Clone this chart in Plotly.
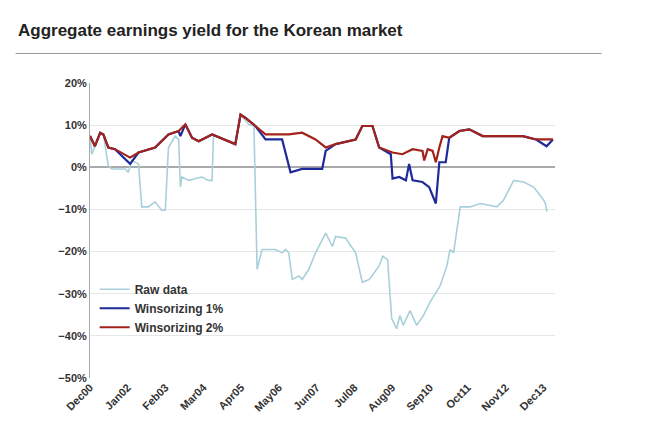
import plotly.graph_objects as go

# months since Dec 2000
tick_months = [0, 13, 26, 39, 52, 65, 78, 91, 104, 117, 130, 143, 156]
tick_labels = ["Dec00", "Jan02", "Feb03", "Mar04", "Apr05", "May06", "Jun07",
               "Jul08", "Aug09", "Sep10", "Oct11", "Nov12", "Dec13"]

w2_x = [0, 1.7, 3.5, 4.6, 6.3, 8.6, 13.8, 16.7, 22.4, 27, 30.5, 32.8, 35.1, 37.4, 42, 50,
        51.8, 53.5, 56.9, 60.4, 63.8, 68.4, 73, 77.6, 81.1, 84.5, 91.4, 93.7, 97.2, 99.5,
        104.1, 107.5, 111, 114.4, 115, 116.2, 117.9, 119, 120.2, 121.3, 123.6, 127.1,
        130.5, 135.1, 142, 148.9, 153.5, 159.3]
w2_y = [7.4, 5.0, 8.2, 7.8, 4.7, 4.3, 2.3, 3.5, 4.7, 7.8, 8.6, 10.2, 7.0, 6.2, 7.8, 5.5,
        12.5, 11.7, 9.8, 7.8, 7.8, 7.8, 8.2, 6.6, 4.7, 5.5, 6.6, 9.8, 9.8, 4.7,
        3.5, 3.1, 4.3, 3.9, 1.6, 4.3, 3.9, 1.2, 4.7, 7.4, 7.0, 8.6,
        9.0, 7.4, 7.4, 7.4, 6.6, 6.6]

w1_x = [0, 1.7, 3.5, 4.6, 6.3, 8.6, 13.8, 16.7, 22.4, 27, 30.5, 31.1, 32.8, 35.1, 37.4,
        42, 50, 51.8, 53.5, 56.9, 60.4, 66.1, 69, 73, 79.9, 81.1, 84.5, 91.4, 93.7, 97.2,
        99.5, 103.5, 104.1, 106.4, 108.7, 109.8, 111, 114.4, 116.7, 119, 120.2, 122.4,
        123.6, 127.1, 130.5, 135.1, 142, 148.9, 153.5, 157.1, 159.3]
w1_y = [7.4, 5.0, 8.2, 7.8, 4.7, 4.3, 0.8, 3.5, 4.7, 7.8, 8.6, 7.4, 10.2, 7.0, 6.2,
        7.8, 5.5, 12.5, 11.7, 9.8, 6.6, 6.6, -1.2, -0.4, -0.4, 3.9, 5.5, 6.6, 9.8, 9.8,
        4.7, 3.1, -2.7, -2.3, -3.1, 0.8, -3.1, -3.5, -4.7, -8.6, 1.2, 1.2,
        7.0, 8.6, 9.0, 7.4, 7.4, 7.4, 6.6, 5.0, 6.6]

raw_x = [0, 0.6, 3.5, 4.6, 6.3, 7.5, 12.1, 13.2, 14.4, 16.7, 17.8, 20.1, 22.4, 24.7, 25.9,
         27, 29.3, 30.5, 31.1, 31.6, 33.9, 38.5, 40.8, 42, 42.5, 50, 51.8, 54.6, 56.4,
         57.5, 59.2, 63.8, 66.1, 67.3, 68.4, 69.6, 71.9, 73, 75.3, 77.6, 81.1, 83.4,
         84.5, 87.9, 91.4, 93.7, 96.1, 99.5, 100.7, 102.4, 103.8, 105.5, 106.6, 107.8,
         110.1, 112.4, 114.7, 117, 120.5, 122.8, 123.9, 125.1, 127.4, 130.8, 134.3,
         140, 142.3, 145.8, 149.2, 152.7, 156.1, 156.7, 157.2]
raw_y = [7.4, 3.1, 8.2, 7.8, 0.4, -0.4, -0.4, -1.2, 1.6, 0.8, -9.4, -9.4, -8.2, -10.2, -10.2,
         4.7, 7.4, 6.6, -4.7, -2.3, -3.1, -2.3, -3.1, -3.1, 7.8, 5.5, 12.5, 10.2, 9.8,
         -24.2, -19.5, -19.5, -20.3, -19.5, -20.3, -26.6, -25.8, -26.6, -24.2, -20.3, -15.6, -18.8,
         -16.4, -16.8, -20.3, -27.3, -26.6, -23.4, -21.1, -21.9, -35.9, -38.3, -35.2, -37.5,
         -34.0, -37.5, -35.2, -32.0, -28.1, -23.4, -19.5, -20.3, -9.4, -9.4, -8.6,
         -9.4, -7.8, -3.1, -3.5, -4.7, -7.8, -8.6, -10.5]

fig = go.Figure()
fig.add_trace(go.Scatter(x=raw_x, y=raw_y, mode="lines", name="<b>Raw data</b>",
                         line=dict(color="#a9d0da", width=1.6)))
fig.add_trace(go.Scatter(x=w1_x, y=w1_y, mode="lines", name="<b>Winsorizing 1%</b>",
                         line=dict(color="#1f2a9a", width=2.2)))
fig.add_trace(go.Scatter(x=w2_x, y=w2_y, mode="lines", name="<b>Winsorizing 2%</b>",
                         line=dict(color="#a3231c", width=2.2)))

fig.add_shape(type="line", xref="paper", yref="paper", x0=-0.16, x1=1.1, y0=1.1, y1=1.1,
              line=dict(color="#999999", width=1.2))

fig.update_layout(
    width=665, height=446,
    paper_bgcolor="white", plot_bgcolor="white",
    margin=dict(l=82, r=118, t=75, b=76),
    font=dict(family="Arial, Liberation Sans", size=12, color="#222"),
    title=dict(text="<b>Aggregate earnings yield for the Korean market</b>",
               x=0.015, xanchor="left", y=0.965, font=dict(size=17, color="#222")),
    legend=dict(x=0.01, y=0.35, xanchor="left", yanchor="top", bgcolor="rgba(0,0,0,0)",
                font=dict(size=12, color="#333"), tracegroupgap=4),
    showlegend=True,
)
fig.update_xaxes(range=[0, 160], tickvals=tick_months,
                 ticktext=["<b>%s</b>" % t for t in tick_labels],
                 tickangle=-45, tickfont=dict(size=11, color="#333"),
                 showgrid=False, zeroline=False, showline=False)
fig.update_yaxes(range=[-50, 20], dtick=10, ticksuffix="%",
                 tickprefix="<b>", showtickprefix="all",
                 tickfont=dict(size=11, color="#333"),
                 showgrid=True, gridcolor="#e6e6e6", zeroline=True, zerolinecolor="#aaaaaa",
                 showline=True, linecolor="#aaaaaa")

fig.write_html("out.html")
